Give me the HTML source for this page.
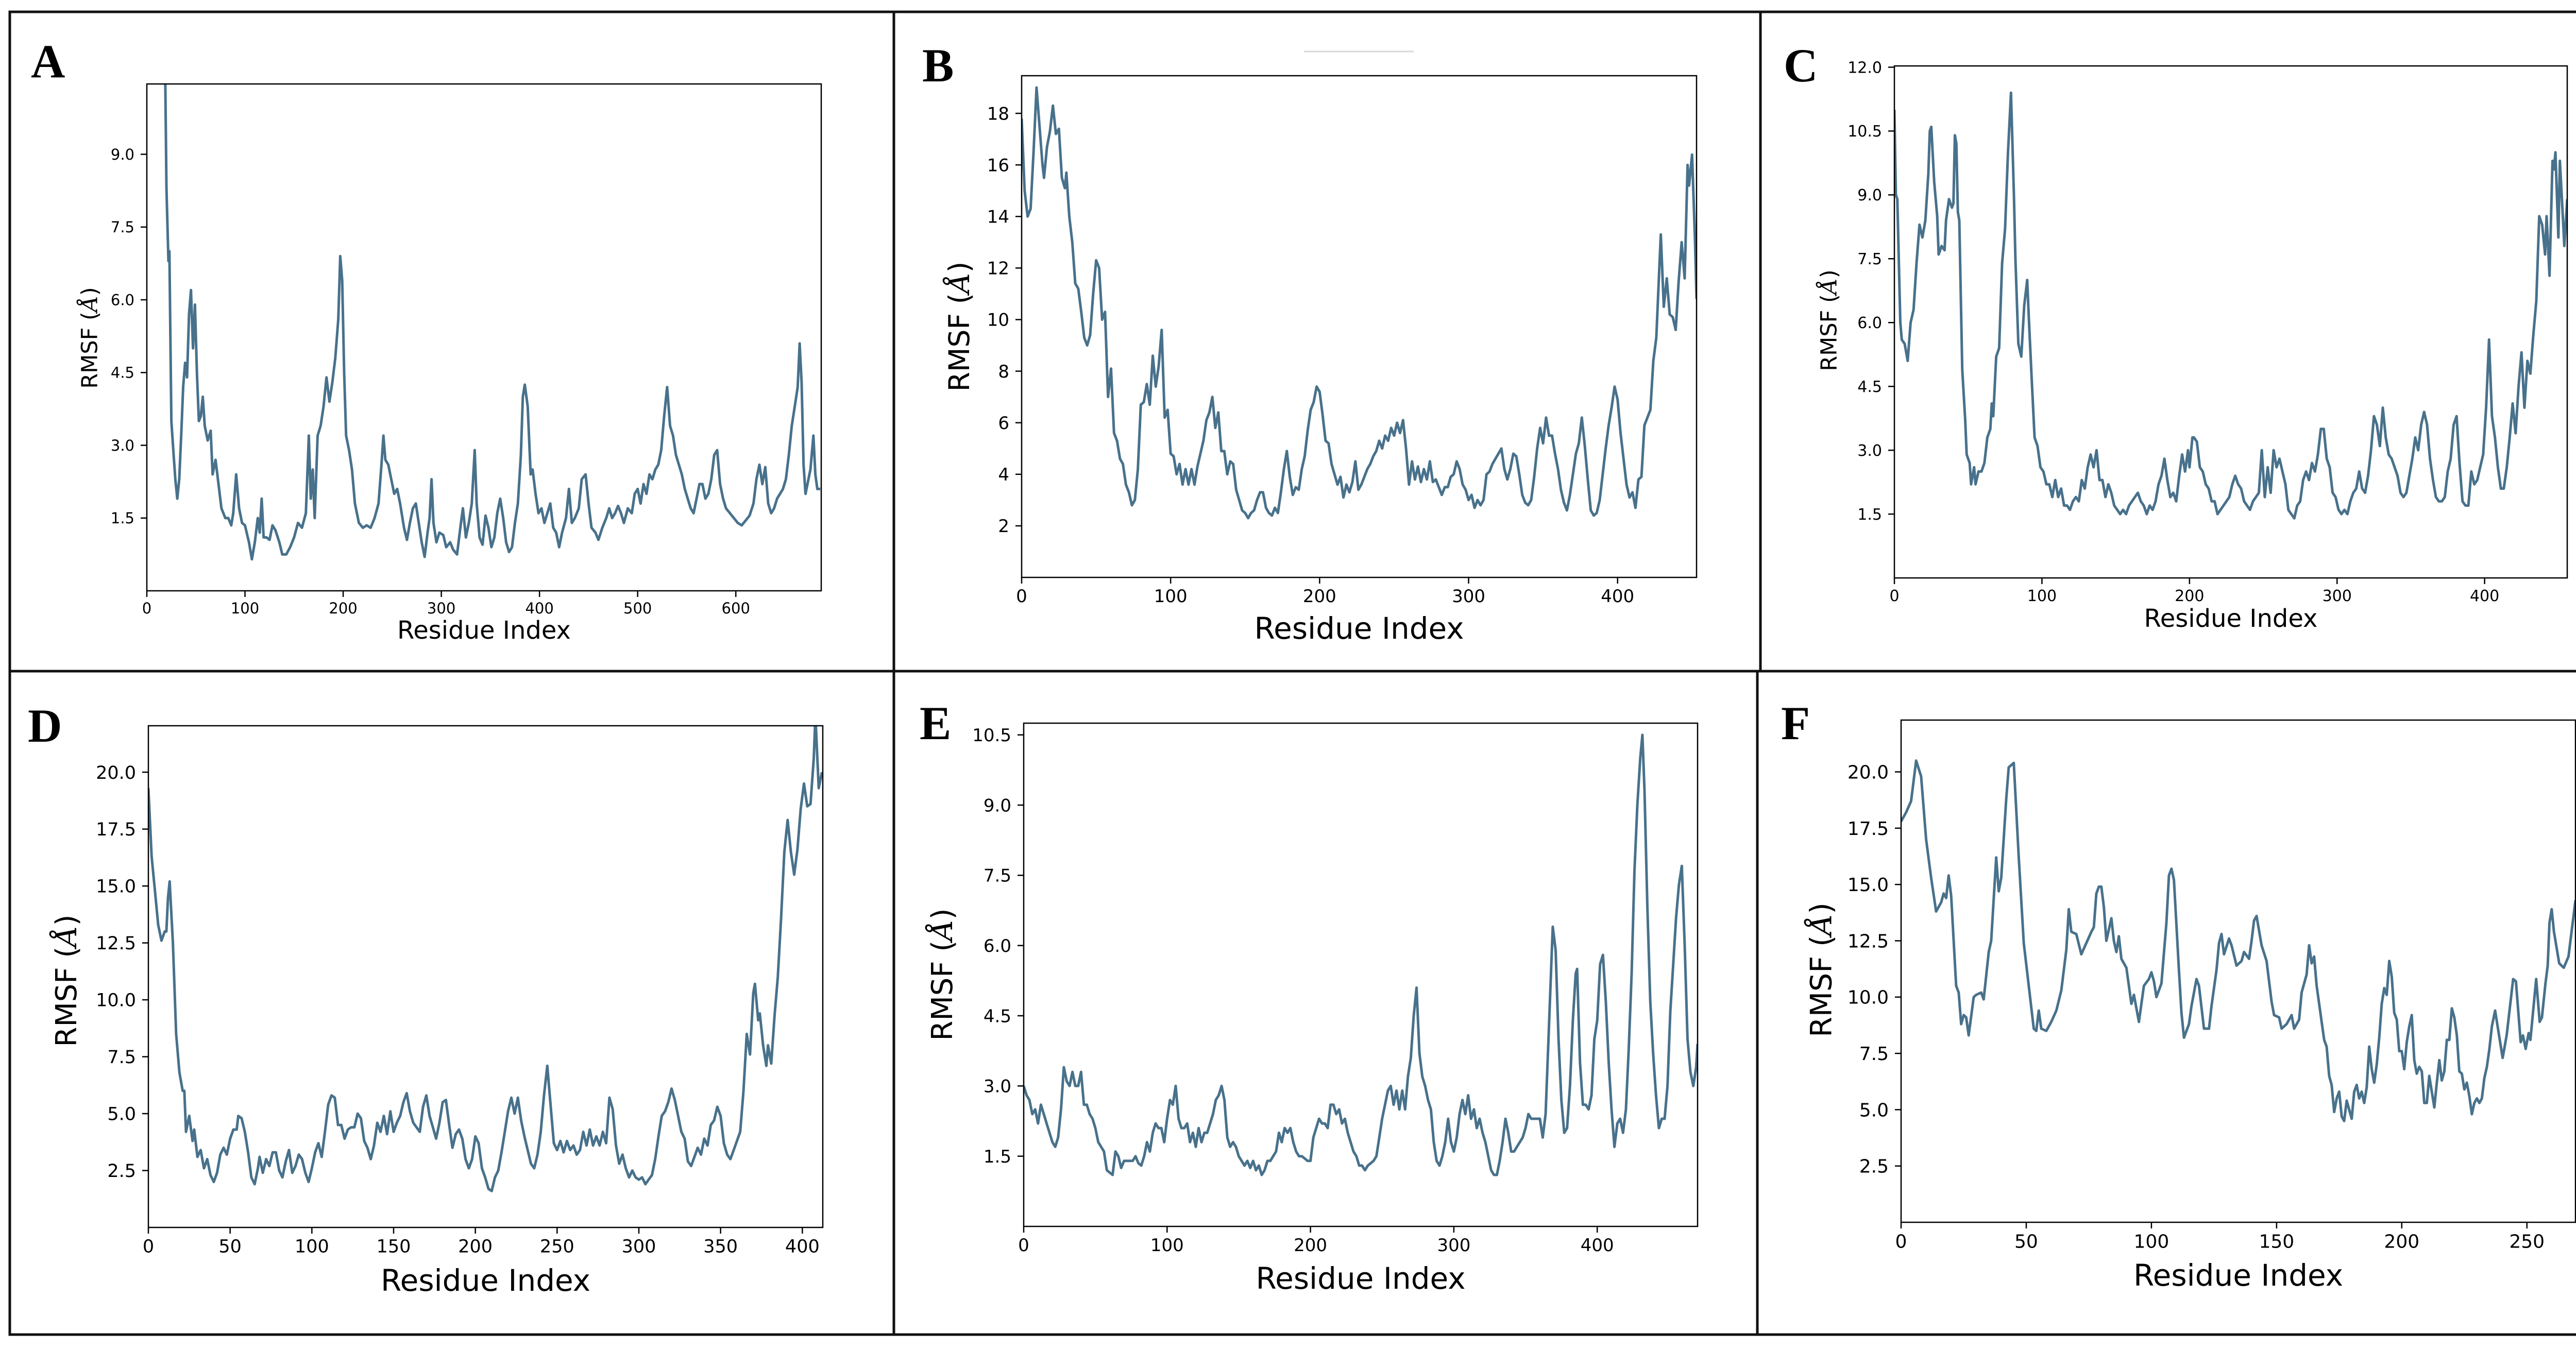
<!DOCTYPE html>
<html><head><meta charset="utf-8"><title>RMSF panels</title>
<style>
html,body{margin:0;padding:0;background:#fff;width:5156px;height:2619px;overflow:hidden;}
svg{display:block;position:absolute;left:0;top:0;}
</style></head>
<body>
<svg id="fig" width="5156" height="2619" viewBox="0 0 5156 2619" xmlns="http://www.w3.org/2000/svg">
<rect x="0" y="0" width="5156" height="2619" fill="#fff"/>
<g stroke="#111" stroke-width="5" fill="none">
<rect x="19" y="23" width="5109" height="2568"/>
<line x1="1735" y1="23" x2="1735" y2="2591"/>
<line x1="3417" y1="23" x2="3417" y2="1303"/>
<line x1="3411" y1="1303" x2="3411" y2="2591"/>
<line x1="19" y1="1303" x2="5128" y2="1303"/>
</g>
<line x1="2531" y1="100" x2="2744" y2="100" stroke="#d8d8d8" stroke-width="3"/>
</svg>
<script>
// ---- Data: [residue index, RMSF (Å)] ----
const dataA = [[18,12],[20,8.3],[22,6.8],[23,7.0],[25,3.5],[27,2.9],[29,2.3],[31,1.9],[33,2.3],[35,3.2],[37,4.2],[39,4.7],[41,4.4],[43,5.7],[45,6.2],[47,5.0],[49,5.9],[51,4.5],[53,3.5],[55,3.6],[57,4.0],[59,3.4],[62,3.1],[65,3.3],[67,2.4],[70,2.7],[73,2.2],[76,1.7],[80,1.5],[83,1.5],[86,1.35],[88,1.6],[91,2.4],[94,1.7],[97,1.4],[100,1.35],[104,1.0],[107,0.65],[110,1.0],[113,1.5],[115,1.2],[117,1.9],[119,1.1],[122,1.1],[125,1.05],[128,1.35],[131,1.25],[135,1.0],[138,0.75],[142,0.75],[146,0.9],[150,1.1],[154,1.4],[158,1.3],[162,1.6],[165,3.2],[167,1.9],[169,2.5],[171,1.5],[174,3.2],[177,3.4],[180,3.8],[183,4.4],[186,3.9],[189,4.3],[192,4.8],[195,5.6],[197,6.9],[199,6.4],[201,4.5],[203,3.2],[206,2.9],[209,2.5],[212,1.8],[216,1.4],[220,1.3],[224,1.35],[228,1.3],[232,1.5],[236,1.8],[239,2.6],[241,3.2],[243,2.7],[246,2.6],[249,2.3],[252,2.0],[255,2.1],[258,1.8],[262,1.3],[265,1.05],[268,1.4],[271,1.7],[274,1.8],[277,1.4],[280,1.0],[283,0.7],[286,1.2],[288,1.5],[290,2.3],[292,1.4],[295,1.0],[298,1.2],[302,1.15],[305,0.9],[309,1.0],[312,0.85],[316,0.75],[320,1.4],[322,1.7],[325,1.1],[328,1.4],[331,1.8],[334,2.9],[336,1.8],[339,1.1],[342,0.95],[345,1.55],[348,1.3],[351,0.9],[354,1.1],[357,1.6],[360,1.9],[363,1.5],[366,1.0],[369,0.8],[372,0.9],[375,1.4],[378,1.8],[381,2.8],[383,4.0],[385,4.25],[388,3.8],[391,2.4],[393,2.5],[396,2.0],[399,1.6],[402,1.7],[405,1.4],[408,1.6],[411,1.8],[414,1.3],[417,1.2],[420,0.9],[423,1.2],[427,1.5],[430,2.1],[433,1.4],[436,1.5],[440,1.7],[443,2.3],[447,2.4],[450,1.8],[453,1.3],[457,1.2],[460,1.05],[464,1.3],[468,1.5],[471,1.7],[474,1.5],[477,1.6],[480,1.75],[483,1.6],[486,1.4],[490,1.7],[494,1.6],[497,2.0],[500,2.1],[503,1.8],[506,2.2],[509,2.0],[512,2.4],[515,2.3],[518,2.5],[521,2.6],[524,2.9],[527,3.6],[530,4.2],[533,3.4],[536,3.2],[539,2.8],[542,2.6],[545,2.4],[548,2.1],[551,1.9],[554,1.7],[557,1.6],[560,1.9],[563,2.2],[566,2.2],[569,1.9],[572,2.0],[575,2.3],[578,2.8],[581,2.9],[584,2.2],[587,1.9],[590,1.7],[594,1.6],[598,1.5],[602,1.4],[606,1.35],[610,1.45],[614,1.55],[618,1.8],[621,2.3],[624,2.6],[627,2.2],[630,2.55],[633,1.8],[636,1.6],[639,1.7],[642,1.9],[645,2.0],[648,2.1],[651,2.3],[654,2.8],[657,3.4],[660,3.8],[663,4.2],[665,5.1],[667,4.3],[669,2.6],[671,2.0],[673,2.2],[676,2.5],[679,3.2],[681,2.4],[683,2.1],[686,2.1]];
const dataB = [[0,17.8],[2,15],[4,14],[6,14.3],[8,16.5],[10,19],[12,17.5],[14,16],[15,15.5],[17,16.7],[19,17.3],[21,18.3],[23,17.2],[25,17.4],[27,15.5],[29,15.1],[30,15.7],[32,14.0],[34,13],[36,11.4],[38,11.2],[40,10.3],[42,9.3],[44,9.0],[46,9.4],[48,11.0],[50,12.3],[52,12.0],[54,10.0],[56,10.3],[58,7.0],[60,8.1],[62,5.6],[64,5.3],[66,4.6],[68,4.4],[70,3.6],[72,3.3],[74,2.8],[76,3.0],[78,4.2],[80,6.7],[82,6.8],[84,7.5],[86,6.7],[88,8.6],[90,7.4],[92,8.2],[94,9.6],[96,6.2],[98,6.5],[100,4.8],[102,4.7],[104,4.0],[106,4.4],[108,3.6],[110,4.2],[112,3.6],[114,4.2],[116,3.6],[118,4.3],[120,4.8],[122,5.3],[124,6.1],[126,6.4],[128,7.0],[130,5.8],[132,6.4],[134,4.9],[136,4.9],[138,4.0],[140,4.5],[142,4.4],[144,3.4],[146,3.0],[148,2.6],[150,2.5],[152,2.3],[154,2.5],[156,2.6],[158,3.0],[160,3.3],[162,3.3],[164,2.7],[166,2.5],[168,2.4],[170,2.7],[172,2.5],[174,3.3],[176,4.2],[178,4.9],[180,3.9],[182,3.2],[184,3.5],[186,3.4],[188,4.2],[190,4.7],[192,5.7],[194,6.5],[196,6.8],[198,7.4],[200,7.2],[202,6.3],[204,5.3],[206,5.2],[208,4.4],[210,4.0],[212,3.6],[214,3.9],[216,3.1],[218,3.6],[220,3.3],[222,3.7],[224,4.5],[226,3.4],[228,3.6],[230,3.9],[232,4.2],[234,4.4],[236,4.7],[238,4.9],[240,5.3],[242,5.0],[244,5.5],[246,5.3],[248,5.8],[250,5.5],[252,6.0],[254,5.6],[256,6.1],[258,5.0],[260,3.6],[262,4.5],[264,3.8],[266,4.3],[268,3.7],[270,4.2],[272,3.8],[274,4.5],[276,3.7],[278,3.8],[280,3.5],[282,3.2],[284,3.5],[286,3.5],[288,3.9],[290,4.0],[292,4.5],[294,4.2],[296,3.6],[298,3.4],[300,3.0],[302,3.2],[304,2.7],[306,3.0],[308,2.8],[310,3.0],[312,4.0],[314,4.1],[316,4.4],[318,4.6],[320,4.8],[322,5.0],[324,4.2],[326,3.8],[328,4.2],[330,4.8],[332,4.7],[334,4.0],[336,3.2],[338,2.9],[340,2.8],[342,3.0],[344,3.9],[346,5.0],[348,5.8],[350,5.2],[352,6.2],[354,5.5],[356,5.5],[358,4.8],[360,4.2],[362,3.4],[364,2.9],[366,2.6],[368,3.2],[370,4.0],[372,4.8],[374,5.2],[376,6.2],[378,5.1],[380,3.8],[382,2.6],[384,2.4],[386,2.5],[388,3.0],[390,4.0],[392,5.0],[394,5.9],[396,6.6],[398,7.4],[400,6.9],[402,5.6],[404,4.6],[406,3.6],[408,3.1],[410,3.3],[412,2.7],[414,3.8],[416,3.9],[418,5.9],[420,6.2],[422,6.5],[424,8.4],[426,9.3],[428,12.0],[429,13.3],[431,10.5],[433,11.6],[435,10.2],[437,10.1],[439,9.6],[441,11.5],[443,13.0],[445,11.6],[447,16.0],[448,15.2],[450,16.4],[452,13.0],[453,10.8]];
const dataC = [[0,11],[1,9.0],[2,8.9],[4,6.0],[5,5.6],[7,5.5],[9,5.1],[11,6.0],[13,6.3],[15,7.4],[17,8.3],[19,8.0],[21,8.4],[23,9.5],[24,10.5],[25,10.6],[27,9.3],[29,8.5],[30,7.6],[32,7.8],[34,7.7],[35,8.4],[37,8.9],[39,8.7],[40,8.8],[41,10.4],[42,10.2],[43,8.6],[44,8.4],[46,4.9],[48,3.7],[49,2.9],[51,2.7],[52,2.2],[54,2.6],[55,2.2],[57,2.5],[59,2.5],[61,2.7],[63,3.3],[65,3.5],[66,4.1],[67,3.8],[69,5.2],[71,5.4],[73,7.4],[75,8.2],[77,10.0],[79,11.4],[81,9.0],[82,7.5],[84,5.5],[86,5.2],[88,6.4],[90,7.0],[91,6.2],[93,4.7],[95,3.3],[97,3.1],[99,2.6],[101,2.5],[103,2.2],[105,2.2],[107,1.9],[109,2.3],[111,1.9],[113,2.1],[115,1.7],[117,1.7],[119,1.6],[121,1.8],[123,1.9],[125,1.8],[127,2.3],[129,2.1],[131,2.6],[133,2.9],[135,2.6],[137,3.0],[139,2.3],[141,2.3],[143,1.9],[145,2.2],[147,2.0],[149,1.7],[151,1.6],[153,1.5],[155,1.6],[157,1.5],[159,1.7],[161,1.8],[163,1.9],[165,2.0],[167,1.8],[169,1.7],[171,1.5],[173,1.7],[175,1.6],[177,1.8],[179,2.2],[181,2.4],[183,2.8],[185,2.3],[187,1.9],[189,2.0],[191,1.8],[193,2.4],[195,2.9],[197,2.5],[199,3.0],[200,2.6],[202,3.3],[203,3.3],[205,3.2],[207,2.6],[209,2.5],[211,2.2],[213,2.1],[215,1.8],[217,1.8],[219,1.5],[221,1.6],[223,1.7],[225,1.8],[227,1.9],[229,2.2],[231,2.4],[233,2.2],[235,2.1],[237,1.8],[239,1.7],[241,1.6],[243,1.8],[245,1.9],[247,2.0],[249,3.0],[251,1.9],[253,2.6],[255,2.0],[257,3.0],[259,2.6],[261,2.8],[263,2.5],[265,2.2],[267,1.6],[269,1.5],[271,1.4],[273,1.7],[275,1.8],[277,2.3],[279,2.5],[281,2.3],[283,2.7],[285,2.5],[287,2.9],[289,3.5],[291,3.5],[293,2.8],[295,2.6],[297,2.0],[299,1.9],[301,1.6],[303,1.5],[305,1.6],[307,1.5],[309,1.8],[311,2.0],[313,2.1],[315,2.5],[317,2.1],[319,2.0],[321,2.4],[323,3.0],[325,3.8],[327,3.6],[329,3.1],[331,4.0],[333,3.3],[335,2.9],[337,2.8],[339,2.6],[341,2.4],[343,2.0],[345,1.9],[347,2.0],[349,2.4],[351,2.8],[353,3.3],[355,3.0],[357,3.6],[359,3.9],[361,3.6],[363,2.8],[365,2.3],[367,1.9],[369,1.8],[371,1.8],[373,1.9],[375,2.5],[377,2.8],[379,3.6],[381,3.8],[383,2.7],[385,1.8],[387,1.7],[389,1.7],[391,2.5],[393,2.2],[395,2.3],[397,2.6],[399,2.9],[401,4.0],[403,5.6],[405,3.8],[407,3.3],[409,2.6],[411,2.1],[413,2.1],[415,2.6],[417,3.3],[419,4.1],[421,3.4],[423,4.5],[425,5.3],[427,4.0],[429,5.1],[431,4.8],[433,5.7],[435,6.5],[437,8.5],[439,8.3],[441,7.6],[442,8.5],[444,7.1],[446,9.8],[447,9.6],[448,10.0],[450,8.0],[451,9.8],[453,8.5],[454,7.8],[456,8.9]];
const dataD = [[0,19.3],[2,16.3],[4,14.8],[6,13.3],[8,12.6],[10,13.0],[11,13.0],[12,14.5],[13,15.2],[15,12.5],[17,8.5],[19,6.8],[21,6.0],[22,6.0],[23,4.2],[25,4.9],[27,3.8],[28,4.3],[30,3.1],[32,3.4],[34,2.6],[36,3.0],[38,2.3],[40,2.0],[42,2.4],[44,3.2],[46,3.5],[48,3.2],[50,3.9],[52,4.3],[54,4.3],[55,4.9],[57,4.8],[59,4.2],[61,3.3],[63,2.2],[65,1.9],[67,2.6],[68,3.1],[70,2.4],[72,3.0],[74,2.7],[76,3.3],[78,3.3],[80,2.5],[82,2.2],[84,2.9],[86,3.4],[88,2.4],[90,2.7],[92,3.2],[94,3.0],[96,2.4],[98,2.0],[100,2.6],[102,3.3],[104,3.7],[106,3.1],[108,4.2],[110,5.4],[112,5.8],[114,5.7],[116,4.5],[118,4.5],[120,3.9],[122,4.3],[124,4.4],[126,4.4],[128,5.0],[130,4.8],[132,3.8],[134,3.5],[136,3.0],[138,3.6],[140,4.6],[142,4.2],[144,4.9],[146,4.1],[148,5.1],[150,4.2],[152,4.6],[154,4.9],[156,5.5],[158,5.9],[160,5.1],[162,4.6],[164,4.4],[166,4.2],[168,5.3],[170,5.8],[172,4.9],[174,4.4],[176,3.9],[178,4.6],[180,5.5],[182,5.6],[184,4.5],[186,3.5],[188,4.1],[190,4.3],[192,3.9],[194,3.0],[196,2.6],[198,3.0],[200,4.0],[202,3.7],[204,2.6],[206,2.2],[208,1.7],[210,1.6],[212,2.2],[214,2.5],[216,3.3],[218,4.2],[220,5.1],[222,5.7],[224,5.0],[226,5.7],[228,4.7],[230,4.0],[232,3.4],[234,2.8],[236,2.6],[238,3.2],[240,4.2],[242,5.8],[244,7.1],[246,5.4],[248,3.7],[250,3.4],[252,3.8],[254,3.3],[256,3.8],[258,3.4],[260,3.6],[262,3.2],[264,3.4],[266,4.2],[268,3.6],[270,4.3],[272,3.6],[274,4.0],[276,3.6],[278,4.2],[280,3.7],[282,5.7],[284,5.2],[286,3.6],[288,2.8],[290,3.2],[292,2.6],[294,2.2],[296,2.5],[298,2.2],[300,2.1],[302,2.2],[304,1.9],[306,2.1],[308,2.3],[310,3.0],[312,4.0],[314,4.9],[316,5.1],[318,5.5],[320,6.1],[322,5.6],[324,4.9],[326,4.2],[328,3.9],[330,2.9],[332,2.7],[334,3.1],[336,3.5],[338,3.2],[340,3.9],[342,3.6],[344,4.5],[346,4.7],[348,5.3],[350,4.9],[352,3.7],[354,3.2],[356,3.0],[358,3.4],[360,3.8],[362,4.2],[364,6.0],[366,8.5],[368,7.6],[370,10.3],[371,10.7],[373,9.1],[374,9.4],[376,8.0],[378,7.1],[379,8.0],[381,7.2],[383,9.3],[385,11.0],[387,13.6],[389,16.5],[391,17.9],[393,16.5],[395,15.5],[397,16.6],[399,18.4],[401,19.5],[403,18.5],[405,18.6],[407,20.6],[408,22.5],[410,19.3],[412,20.0]];
const dataE = [[0,3.0],[2,2.8],[4,2.7],[6,2.4],[8,2.5],[10,2.2],[12,2.6],[14,2.4],[16,2.2],[18,2.0],[20,1.8],[22,1.7],[24,1.9],[26,2.5],[28,3.4],[30,3.1],[32,3.0],[34,3.3],[36,3.0],[38,3.0],[40,3.3],[42,2.6],[44,2.6],[46,2.4],[48,2.3],[50,2.1],[52,1.8],[54,1.7],[56,1.6],[58,1.2],[60,1.15],[62,1.1],[64,1.6],[66,1.5],[68,1.25],[70,1.4],[72,1.4],[74,1.4],[76,1.4],[78,1.5],[80,1.35],[82,1.3],[84,1.5],[86,1.8],[88,1.6],[90,2.0],[92,2.2],[94,2.1],[96,2.1],[98,1.8],[100,2.3],[102,2.7],[104,2.6],[106,3.0],[108,2.3],[110,2.1],[112,2.1],[114,2.2],[116,1.8],[118,2.0],[120,1.7],[122,2.1],[124,1.8],[126,2.0],[128,2.0],[130,2.2],[132,2.4],[134,2.7],[136,2.8],[138,3.0],[140,2.7],[142,1.9],[144,1.7],[146,1.8],[148,1.7],[150,1.5],[152,1.4],[154,1.3],[156,1.4],[158,1.25],[160,1.4],[162,1.2],[164,1.3],[166,1.1],[168,1.2],[170,1.4],[172,1.4],[174,1.5],[176,1.6],[178,2.0],[180,1.8],[182,2.1],[184,2.0],[186,2.1],[188,1.8],[190,1.6],[192,1.5],[194,1.5],[196,1.45],[198,1.4],[200,1.4],[202,1.9],[204,2.1],[206,2.3],[208,2.2],[210,2.2],[212,2.1],[214,2.6],[216,2.6],[218,2.4],[220,2.5],[222,2.2],[224,2.3],[226,2.0],[228,1.8],[230,1.6],[232,1.5],[234,1.3],[236,1.3],[238,1.2],[240,1.3],[242,1.35],[244,1.4],[246,1.5],[248,1.9],[250,2.3],[252,2.6],[254,2.9],[256,3.0],[258,2.6],[260,2.9],[262,2.5],[264,2.9],[266,2.5],[268,3.2],[270,3.6],[272,4.5],[274,5.1],[276,3.7],[278,3.2],[280,3.0],[282,2.7],[284,2.5],[286,1.8],[288,1.4],[290,1.3],[292,1.5],[294,1.8],[296,2.3],[298,1.8],[300,1.6],[302,1.9],[304,2.4],[306,2.7],[308,2.4],[310,2.8],[312,2.3],[314,2.5],[316,2.1],[318,2.3],[320,2.0],[322,1.8],[324,1.5],[326,1.2],[328,1.1],[330,1.1],[332,1.4],[334,1.8],[336,2.3],[338,2.0],[340,1.6],[342,1.6],[344,1.7],[346,1.8],[348,1.9],[350,2.1],[352,2.4],[354,2.3],[356,2.3],[358,2.3],[360,2.3],[362,1.9],[364,2.4],[366,4.0],[368,5.6],[369,6.4],[371,5.9],[373,4.0],[375,2.7],[377,2.0],[379,2.1],[381,3.0],[383,4.4],[385,5.4],[386,5.5],[388,3.5],[390,2.6],[392,2.6],[394,2.5],[396,2.8],[398,4.0],[400,4.4],[402,5.6],[404,5.8],[406,4.8],[408,3.5],[410,2.5],[412,1.7],[414,2.2],[416,2.3],[418,2.0],[420,2.5],[422,3.8],[424,5.4],[426,7.6],[428,9.0],[430,10.0],[431.5,10.5],[433,9.3],[435,6.8],[437,4.8],[439,3.7],[441,2.8],[443,2.1],[445,2.3],[447,2.3],[449,3.0],[451,4.6],[453,5.6],[455,6.6],[457,7.3],[459,7.7],[461,6.0],[463,4.0],[465,3.3],[467,3.0],[469,3.4],[470,3.9]];
const dataF = [[0,17.8],[2,18.2],[4,18.7],[6,20.5],[8,19.8],[10,17.0],[12,15.3],[14,13.8],[16,14.2],[17,14.6],[18,14.4],[19,15.4],[20,14.5],[22,10.5],[23,10.2],[24,8.8],[25,9.2],[26,9.1],[27,8.3],[29,10.0],[30,10.1],[32,10.2],[33,9.9],[35,12.0],[36,12.5],[38,16.2],[39,14.7],[40,15.3],[42,18.8],[43,20.2],[45,20.4],[47,16.2],[49,12.4],[51,10.5],[53,8.6],[54,8.5],[55,9.4],[56,8.6],[58,8.5],[60,8.9],[62,9.4],[64,10.3],[66,12.1],[67,13.9],[68,12.9],[70,12.8],[72,11.9],[74,12.4],[76,12.9],[77,13.1],[78,14.6],[79,14.9],[80,14.9],[81,14.0],[82,12.5],[84,13.5],[85,12.5],[86,12.0],[87,12.7],[88,11.7],[90,11.3],[92,9.7],[93,10.1],[95,8.9],[97,10.5],[99,10.8],[100,11.1],[101,10.7],[102,10.0],[104,10.6],[106,13.3],[107,15.4],[108,15.7],[109,15.2],[111,11.2],[112,9.3],[113,8.2],[115,8.8],[116,9.6],[118,10.8],[119,10.5],[121,8.6],[123,8.6],[124,9.6],[126,11.2],[127,12.4],[128,12.8],[129,11.9],[131,12.6],[132,12.3],[134,11.4],[136,11.6],[137,12.0],[139,11.7],[140,12.5],[141,13.4],[142,13.6],[144,12.3],[146,11.6],[148,9.8],[149,9.2],[151,9.1],[152,8.6],[154,8.8],[156,9.2],[157,8.6],[159,9.0],[160,10.2],[162,11.0],[163,12.3],[164,11.5],[165,11.8],[166,10.5],[168,8.9],[169,8.1],[170,7.8],[171,6.5],[172,6.1],[173,4.9],[174,5.5],[175,5.8],[176,4.7],[177,4.5],[178,5.4],[180,4.6],[181,5.8],[182,6.1],[183,5.5],[184,5.8],[185,5.3],[186,6.0],[187,7.8],[188,6.8],[189,6.2],[190,7.0],[191,8.2],[192,9.7],[193,10.4],[194,10.1],[195,11.6],[196,10.9],[197,9.3],[198,9.0],[199,7.6],[200,7.6],[201,6.8],[202,8.0],[203,8.7],[204,9.2],[205,7.2],[206,6.6],[207,6.9],[208,6.7],[209,5.3],[210,5.3],[211,6.5],[212,5.8],[213,5.1],[214,6.2],[215,7.2],[216,6.3],[217,6.7],[218,8.1],[219,8.1],[220,9.5],[221,9.1],[222,8.3],[223,6.7],[224,6.6],[225,5.9],[226,6.2],[227,5.6],[228,4.8],[229,5.3],[230,5.5],[231,5.3],[232,5.5],[233,6.4],[234,6.9],[235,7.7],[236,8.7],[237.3,9.4],[240.3,7.3],[241.9,8.3],[244.5,10.8],[245.6,10.7],[247.5,8.0],[248.4,8.3],[249.5,7.7],[250.7,8.4],[251.4,8.1],[253.7,10.8],[255.1,8.9],[256,9.1],[257.4,10.6],[258.3,11.4],[259,13.3],[259.9,13.9],[260.8,12.9],[262.9,11.5],[264.7,11.3],[266.6,11.8],[269.4,14.3]];

// ---- Tick label arrays ----
const xTicksA = [0,100,200,300,400,500,600];
const yTicksA = [1.5,3.0,4.5,6.0,7.5,9.0];
const xTicksB = [0,100,200,300,400];
const yTicksB = [2,4,6,8,10,12,14,16,18];
const xTicksC = [0,100,200,300,400];
const yTicksC = [1.5,3.0,4.5,6.0,7.5,9.0,10.5,12.0];
const xTicksD = [0,50,100,150,200,250,300,350,400];
const yTicksD = [2.5,5.0,7.5,10.0,12.5,15.0,17.5,20.0];
const xTicksE = [0,100,200,300,400];
const yTicksE = [1.5,3.0,4.5,6.0,7.5,9.0,10.5];
const xTicksF = [0,50,100,150,200,250];
const yTicksF = [2.5,5.0,7.5,10.0,12.5,15.0,17.5,20.0];

const NS = 'http://www.w3.org/2000/svg';
const svg = document.getElementById('fig');
function mk(tag, attrs, parent){ const e=document.createElementNS(NS,tag); for(const k in attrs) e.setAttribute(k,attrs[k]); parent.appendChild(e); return e; }

const panels = [
 {id:'a', letter:'A', lx:60, ly:150, box:[285,163,1594,1147], xlim:[0,687], ylim:[0,10.45], data:dataA, xt:xTicksA, yt:yTicksA, dec:1, tfs:29, xlfs:48, xly:1240, ylfs:43, ylx:173, yly:656},
 {id:'b', letter:'B', lx:1790, ly:158, box:[1983,147,3293,1121], xlim:[0,453], ylim:[0,19.46], data:dataB, xt:xTicksB, yt:yTicksB, dec:0, tfs:34, xlfs:58, xly:1240, ylfs:55, ylx:1861, yly:634},
 {id:'c', letter:'C', lx:3462, ly:158, box:[3677,128,4983,1122], xlim:[0,456], ylim:[0,12.03], data:dataC, xt:xTicksC, yt:yTicksC, dec:1, tfs:30, xlfs:48, xly:1217, ylfs:43, ylx:3549, yly:622},
 {id:'d', letter:'D', lx:54, ly:1440, box:[288,1409,1597,2383], xlim:[0,412.5], ylim:[0,22.04], data:dataD, xt:xTicksD, yt:yTicksD, dec:1, tfs:35, xlfs:58, xly:2506, ylfs:56, ylx:128, yly:1904},
 {id:'e', letter:'E', lx:1785, ly:1435, box:[1987,1404,3295,2381], xlim:[0,470], ylim:[0,10.75], data:dataE, xt:xTicksE, yt:yTicksE, dec:1, tfs:34, xlfs:58, xly:2502, ylfs:56, ylx:1828, yly:1892},
 {id:'f', letter:'F', lx:3457, ly:1435, box:[3690,1398,4999,2373], xlim:[0,269.4], ylim:[0,22.3], data:dataF, xt:xTicksF, yt:yTicksF, dec:1, tfs:36, xlfs:58, xly:2496, ylfs:57, ylx:3534, yly:1883}
];

panels.forEach(p=>{
  const [x0,y0,x1,y1]=p.box;
  const xs = v => x0 + (v-p.xlim[0])/(p.xlim[1]-p.xlim[0])*(x1-x0);
  const ys = v => y1 - (v-p.ylim[0])/(p.ylim[1]-p.ylim[0])*(y1-y0);
  const g = mk('g',{},svg);
  
  

  const lt = mk('text',{x:p.lx,y:p.ly,'font-family':'"Liberation Serif", serif','font-weight':'bold','font-size':92,fill:'#000'},g);
  lt.textContent=p.letter;
  
  

  const cp = mk('clipPath',{id:'clip-'+p.id},g);
  mk('rect',{x:x0,y:y0,width:x1-x0,height:y1-y0},cp);

  let d='';
  p.data.forEach((pt,i)=>{ d += (i?'L':'M') + xs(pt[0]).toFixed(1) + ' ' + ys(pt[1]).toFixed(1) + ' '; });
  const line = mk('path',{d:d,fill:'none',stroke:'#48718b','stroke-width':5,'stroke-linejoin':'round','clip-path':'url(#clip-'+p.id+')'},g);
  
  

  const frame = mk('rect',{x:x0,y:y0,width:x1-x0,height:y1-y0,fill:'none',stroke:'#000','stroke-width':2.5},g);
  
  

  const tl=12;
  p.xt.forEach(v=>{
    const X=xs(v);
    const tk = mk('line',{x1:X,y1:y1,x2:X,y2:y1+tl,stroke:'#000','stroke-width':2.5},g);
    
    
    const t = mk('text',{x:X,y:y1+tl+10+p.tfs*0.76,'text-anchor':'middle','font-family':'"DejaVu Sans", sans-serif','font-size':p.tfs,fill:'#000'},g);
    t.textContent=String(v);
    
    
  });
  p.yt.forEach(v=>{
    const Y=ys(v);
    const tk = mk('line',{x1:x0-tl,y1:Y,x2:x0,y2:Y,stroke:'#000','stroke-width':2.5},g);
    
    
    const t = mk('text',{x:x0-tl-12,y:Y+p.tfs*0.36,'text-anchor':'end','font-family':'"DejaVu Sans", sans-serif','font-size':p.tfs,fill:'#000'},g);
    t.textContent=v.toFixed(p.dec);
    
    
  });

  const xl = mk('text',{x:(x0+x1)/2,y:p.xly,'text-anchor':'middle','font-family':'"DejaVu Sans", sans-serif','font-size':p.xlfs,fill:'#000'},g);
  xl.textContent='Residue Index';
  
  

  const yl = mk('text',{x:0,y:0,'text-anchor':'middle','font-family':'"DejaVu Sans", sans-serif','font-size':p.ylfs,fill:'#000',transform:'translate('+(p.ylx+p.ylfs*0.36)+','+p.yly+') rotate(-90)'},g);
  
  
  const s1 = mk('tspan',{},yl); s1.textContent='RMSF (';
  const s2 = mk('tspan',{'font-style':'italic','font-family':'"DejaVu Serif", serif'},yl); s2.textContent='Å';
  const s3 = mk('tspan',{},yl); s3.textContent=')';
});
</script>
</body></html>
